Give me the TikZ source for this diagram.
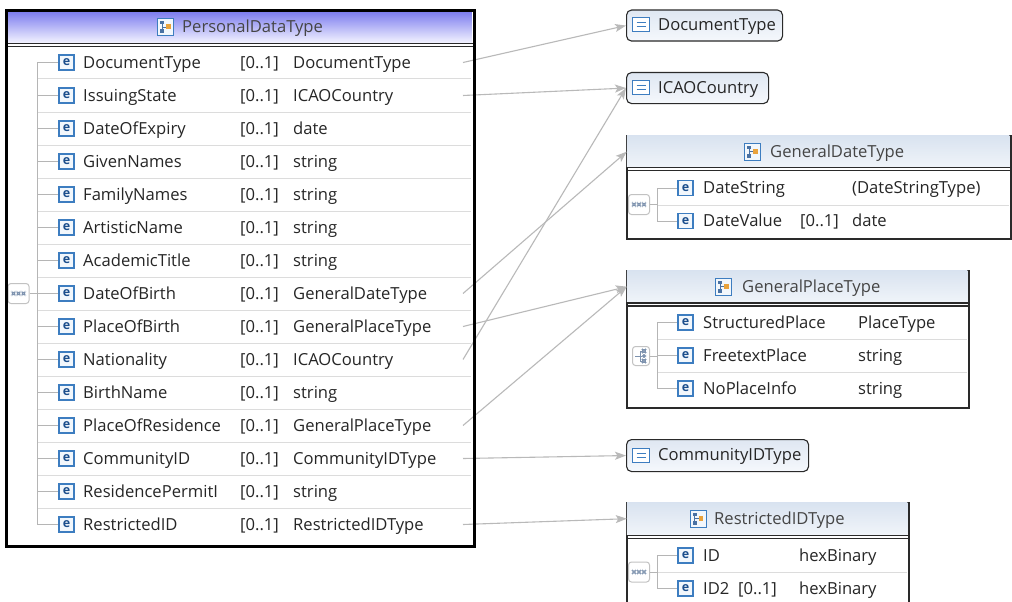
\documentclass[tikz,border=0pt]{standalone}
\usepackage{fontspec}
\setmainfont{Open Sans}
\usetikzlibrary{arrows.meta}
\definecolor{txt}{HTML}{262626}
\definecolor{hdrtxt}{HTML}{454545}
\definecolor{conn}{HTML}{B9B9B9}
\definecolor{sepc}{HTML}{DCDCDC}
\definecolor{treec}{HTML}{B5B5B5}
\definecolor{iconblue}{HTML}{3D7DC0}
\definecolor{iconfill}{HTML}{F2F7FC}
\definecolor{edark}{HTML}{1B4E8C}
\definecolor{hdrtop}{HTML}{7878EE}
\definecolor{hdrbot}{HTML}{F2F2FF}
\definecolor{hdrtopb}{HTML}{D9E3F0}
\definecolor{hdrbotb}{HTML}{F0F4F9}
\definecolor{sttop}{HTML}{DFE7F2}
\definecolor{stbot}{HTML}{F5F8FC}
\definecolor{framec}{HTML}{2A2A2A}
\definecolor{compc}{HTML}{C2C2C2}
\definecolor{compdot}{HTML}{7D92AE}
\definecolor{orangec}{HTML}{E9A23B}
\tikzset{
  lbl/.style={anchor=base west, yshift=-5.9pt, inner sep=0pt, text=txt, font=\fontsize{16.6}{19}\selectfont},
  hlbl/.style={lbl, text=hdrtxt},
  eicon/.style={draw=iconblue, fill=iconfill, line width=1.1pt, minimum width=15pt, minimum height=15pt, inner sep=0pt, text=edark, font=\fontsize{12.5}{12}\selectfont\bfseries},
  cticon/.style={draw=iconblue, fill=iconfill, line width=1pt, minimum width=16pt, minimum height=17pt, inner sep=0pt,
    path picture={
      \draw[edark!80, line width=0.8pt] ([shift={(-3.5,-3)}]path picture bounding box.center) -- ([shift={(-3.5,3)}]path picture bounding box.center)
        ([shift={(-3.5,0)}]path picture bounding box.center) -- ([shift={(1,0)}]path picture bounding box.center);
      \fill[edark!80] ([shift={(-5.5,-6)}]path picture bounding box.center) rectangle ([shift={(-1.5,-2.5)}]path picture bounding box.center);
      \fill[edark!80] ([shift={(-5.5,2.5)}]path picture bounding box.center) rectangle ([shift={(-1.5,6)}]path picture bounding box.center);
      \fill[orangec] ([shift={(0.5,-2.5)}]path picture bounding box.center) rectangle ([shift={(5,2)}]path picture bounding box.center);
    }},
  sticon/.style={draw=iconblue, fill=white, line width=1pt, minimum width=17pt, minimum height=14pt, inner sep=0pt,
    path picture={\draw[iconblue, line width=1pt] ([shift={(-4.5,-2)}]path picture bounding box.center) -- ++(9,0)
       ([shift={(-4.5,2)}]path picture bounding box.center) -- ++(9,0);}},
  compicon/.style={draw=compc, fill=white, line width=1pt, rounded corners=3pt, minimum width=21pt, minimum height=20pt, inner sep=0pt,
    path picture={\foreach \dx in {-5,0,5}{\draw[compdot, line width=0.6pt] ([shift={(\dx-1.4,-1.4)}]path picture bounding box.center) rectangle ++(2.8,2.8);}}},
  choiceicon/.style={draw=compc, fill=white, line width=1pt, rounded corners=3pt, minimum width=17pt, minimum height=19pt, inner sep=0pt,
    path picture={
      \draw[compdot, line width=0.7pt] ([shift={(-6,0)}]path picture bounding box.center) -- ([shift={(1,0)}]path picture bounding box.center)
        ([shift={(-1,-5)}]path picture bounding box.center) -- ([shift={(-1,5)}]path picture bounding box.center)
        ([shift={(-1,-5)}]path picture bounding box.center) -- ([shift={(1.5,-5)}]path picture bounding box.center)
        ([shift={(-1,5)}]path picture bounding box.center) -- ([shift={(1.5,5)}]path picture bounding box.center);
      \draw[compdot, line width=0.6pt] ([shift={(1.5,-6.5)}]path picture bounding box.center) rectangle ++(3,3)
        ([shift={(1.5,3.5)}]path picture bounding box.center) rectangle ++(3,3);
      \fill[compdot] ([shift={(1,-1.8)}]path picture bounding box.center) rectangle ++(4,3.6);
    }},
  stbox/.style={draw=framec, line width=1.1pt, rounded corners=5pt, top color=sttop, bottom color=stbot, inner sep=0pt},
  ctframe/.style={draw=framec, fill=white, line width=1.5pt, inner sep=0pt},
  cthdr/.style={top color=hdrtopb, bottom color=hdrbotb, inner sep=0pt},
  mhdr/.style={top color=hdrtop, bottom color=hdrbot, inner sep=0pt},
  mainframe/.style={draw=black, line width=2.6pt, inner sep=0pt},
  dbl/.style={draw=framec, line width=1.2pt},
  treel/.style={draw=treec, line width=1pt},
  sepl/.style={draw=sepc, line width=1pt},
  conna/.style={draw=conn, line width=1.1pt, -{Stealth[length=11pt,width=8pt,inset=2.5pt]}}
}
\begin{document}
\begin{tikzpicture}[x=1pt,y=-1pt]
\useasboundingbox (0,0) rectangle (1012,602);
\clip (0,0) rectangle (1012,602);
\fill[white] (0,0) rectangle (1012,602);

% ---------- PersonalDataType ----------
\node[mhdr, minimum width=465.4pt, minimum height=32pt, anchor=north west] (pdtH) at (6.3,10.3) {};
\draw[dbl] (5,43.5) -- (473,43.5) (5,46.5) -- (473,46.5);
\node[cticon] (pdtI) at (165.5,27) {};
\node[hlbl] (pdtL) at (182,27) {PersonalDataType};

\foreach \k in {1,...,14}{ \draw[sepl] (37,{46+33*\k}) -- (471,{46+33*\k}); }
\draw[treel] (37,62.5) -- (37,524.5);
\node[compicon] (pdtC) at (18.5,293.5) {};
\draw[treel] (pdtC.east) -- (37,293.5);

\foreach \nm/\ty [count=\i from 0] in {DocumentType/DocumentType, IssuingState/ICAOCountry, DateOfExpiry/date, GivenNames/string, FamilyNames/string, ArtisticName/string, AcademicTitle/string, DateOfBirth/GeneralDateType, PlaceOfBirth/GeneralPlaceType, Nationality/ICAOCountry, BirthName/string, PlaceOfResidence/GeneralPlaceType, CommunityID/CommunityIDType, ResidencePermitI/string, RestrictedID/RestrictedIDType}{
  \pgfmathsetmacro{\yy}{62.5+33*\i}
  \draw[treel] (37,\yy) -- (59,\yy);
  \node[eicon] (pe\i) at (66.5,\yy) {e};
  \node[lbl] (pn\i) at (83,\yy) {\nm};
  \node[lbl] (pm\i) at (240,\yy) {[0..1]};
  \node[lbl] (pt\i) at (293,\yy) {\ty};
  \coordinate (ps\i) at (463,\yy);
}

% ---------- simple types ----------
\node[stbox, minimum width=156pt, minimum height=31pt, anchor=north west] (docT) at (626,9.5) {};
\node[sticon] (docI) at (641,25) {};
\node[lbl] (docL) at (658,25) {DocumentType};

\node[stbox, minimum width=142pt, minimum height=31pt, anchor=north west] (icaoT) at (626,72) {};
\node[sticon] (icaoI) at (641,87.5) {};
\node[lbl] (icaoL) at (658,87.5) {ICAOCountry};

\node[stbox, minimum width=182pt, minimum height=32pt, anchor=north west] (cidT) at (626,439) {};
\node[sticon] (cidI) at (641,455) {};
\node[lbl] (cidL) at (658,455) {CommunityIDType};

% ---------- GeneralDateType ----------
\node[ctframe, minimum width=384pt, minimum height=103pt, anchor=north west] (gdt) at (626,135) {};
\node[cthdr, minimum width=382.5pt, minimum height=31.5pt, anchor=north west] (gdtH) at (626.75,135.75) {};
\draw[dbl] (626,167.8) -- (1010,167.8) (626,170.8) -- (1010,170.8);
\node[cticon] (gdtI) at (752.5,151.5) {};
\node[hlbl] (gdtL) at (770,151.5) {GeneralDateType};
\draw[sepl] (657,205) -- (1009,205);
\draw[treel] (657,188) -- (657,221) (657,188) -- (678,188) (657,221) -- (678,221);
\node[compicon] (gdtC) at (639,204.5) {};
\draw[treel] (gdtC.east) -- (657,204.5);
\node[eicon] (gdtE1) at (685.5,188) {e};
\node[lbl] (gdtN1) at (703,188) {DateString};
\node[lbl] (gdtT1) at (852,188) {(DateStringType)};
\node[eicon] (gdtE2) at (685.5,221) {e};
\node[lbl] (gdtN2) at (703,221) {DateValue};
\node[lbl] (gdtM2) at (800,221) {[0..1]};
\node[lbl] (gdtT2) at (852,221) {date};

% ---------- GeneralPlaceType ----------
\node[ctframe, minimum width=342pt, minimum height=137pt, anchor=north west] (gpt) at (626,270) {};
\node[cthdr, minimum width=340.5pt, minimum height=31.5pt, anchor=north west] (gptH) at (626.75,270.75) {};
\draw[dbl] (626,303) -- (968,303) (626,306) -- (968,306);
\node[cticon] (gptI) at (723.5,286.5) {};
\node[hlbl] (gptL) at (742,286.5) {GeneralPlaceType};
\draw[sepl] (657,339) -- (967,339) (657,372) -- (967,372);
\draw[treel] (657,322.5) -- (657,388.5) (657,322.5) -- (678,322.5) (657,355.5) -- (678,355.5) (657,388.5) -- (678,388.5);
\node[choiceicon] (gptC) at (641,356) {};
\draw[treel] (gptC.east) -- (657,356);
\node[eicon] (gptE1) at (685.5,322.5) {e};
\node[lbl] (gptN1) at (703,322.5) {StructuredPlace};
\node[lbl] (gptT1) at (858,322.5) {PlaceType};
\node[eicon] (gptE2) at (685.5,355.5) {e};
\node[lbl] (gptN2) at (703,355.5) {FreetextPlace};
\node[lbl] (gptT2) at (858,355.5) {string};
\node[eicon] (gptE3) at (685.5,388.5) {e};
\node[lbl] (gptN3) at (703,388.5) {NoPlaceInfo};
\node[lbl] (gptT3) at (858,388.5) {string};

% ---------- RestrictedIDType ----------
\node[ctframe, minimum width=282pt, minimum height=130pt, anchor=north west] (rid) at (626,502) {};
\node[cthdr, minimum width=280.5pt, minimum height=31.5pt, anchor=north west] (ridH) at (626.75,502.75) {};
\draw[dbl] (626,535.5) -- (908,535.5) (626,538.5) -- (908,538.5);
\node[cticon] (ridI) at (698,518.5) {};
\node[hlbl] (ridL) at (714,518.5) {RestrictedIDType};
\draw[sepl] (657,572) -- (907,572);
\draw[treel] (657,555.5) -- (657,588.5) (657,555.5) -- (678,555.5) (657,588.5) -- (678,588.5);
\node[compicon] (ridC) at (639,572) {};
\draw[treel] (ridC.east) -- (657,572);
\node[eicon] (ridE1) at (685.5,555.5) {e};
\node[lbl] (ridN1) at (703,555.5) {ID};
\node[lbl] (ridT1) at (799,555.5) {hexBinary};
\node[eicon] (ridE2) at (685.5,588.5) {e};
\node[lbl] (ridN2) at (703,588.5) {ID2};
\node[lbl] (ridM2) at (738,588.5) {[0..1]};
\node[lbl] (ridT2) at (799,588.5) {hexBinary};

% ---------- connectors ----------
\draw[conna] (ps0) -- (docT.west);
\draw[conna] (ps1) -- (icaoT.west);
\draw[conna] (ps9) -- (icaoT.west);
\draw[conna] (ps7) -- (gdtH.west);
\draw[conna] (ps8) -- (gptH.west);
\draw[conna] (ps11) -- (gptH.west);
\draw[conna] (ps12) -- (cidT.west);
\draw[conna] (ps14) -- (ridH.west);

% main frame on top
\node[mainframe, minimum width=468pt, minimum height=536pt, anchor=north west] (pdt) at (5,9) {};
\end{tikzpicture}
\end{document}
